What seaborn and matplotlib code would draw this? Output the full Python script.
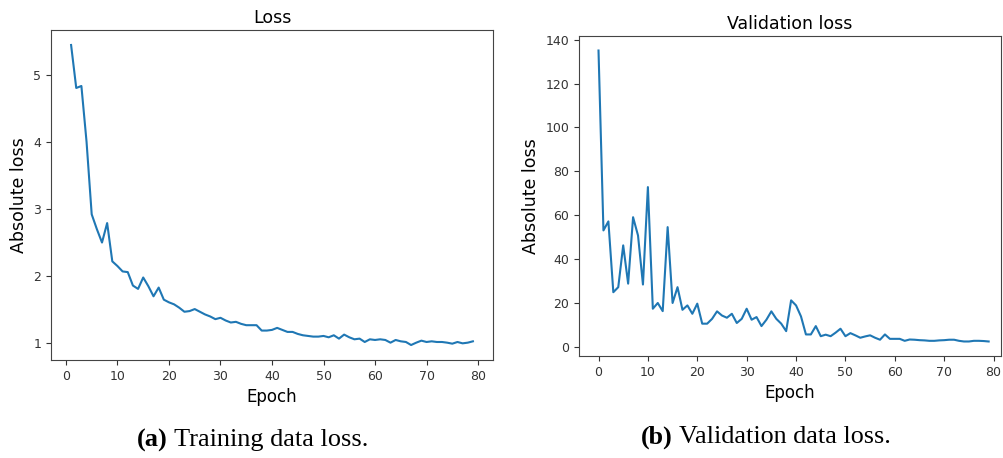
import numpy as np
import pandas as pd
import matplotlib
matplotlib.use("Agg")
import matplotlib.pyplot as plt
import seaborn as sns

train_epochs = list(range(1, 80))
train_loss = [5.44, 4.80, 4.83, 4.00, 2.92, 2.70, 2.50, 2.79, 2.22, 2.15,
              2.07, 2.06, 1.86, 1.81, 1.98, 1.85, 1.70, 1.83, 1.65, 1.61,
              1.58, 1.53, 1.47, 1.48, 1.51, 1.47, 1.43, 1.40, 1.36, 1.38,
              1.34, 1.31, 1.32, 1.29, 1.27, 1.27, 1.27, 1.19, 1.19, 1.20,
              1.23, 1.20, 1.17, 1.17, 1.14, 1.12, 1.11, 1.10, 1.10, 1.11,
              1.09, 1.12, 1.07, 1.13, 1.09, 1.06, 1.07, 1.02, 1.06, 1.05,
              1.06, 1.05, 1.01, 1.05, 1.03, 1.02, 0.975, 1.01, 1.04, 1.02,
              1.03, 1.02, 1.02, 1.01, 0.995, 1.02, 1.00, 1.01, 1.03]

val_epochs = list(range(0, 80))
val_loss = [135.0, 53.2, 57.3, 25.1, 27.4, 46.4, 29.0, 59.2, 50.9, 28.6,
            72.9, 17.6, 20.2, 16.5, 54.7, 20.2, 27.4, 17.1, 19.1, 15.3,
            19.9, 10.8, 10.8, 13.0, 16.4, 14.5, 13.5, 15.3, 11.1, 13.0,
            17.6, 12.6, 13.8, 9.7, 12.6, 16.4, 13.0, 10.8, 7.4, 21.4,
            19.1, 14.1, 5.9, 5.9, 9.7, 5.1, 5.8, 5.1, 6.7, 8.5,
            5.1, 6.5, 5.5, 4.4, 5.0, 5.5, 4.4, 3.5, 5.9, 3.9,
            3.9, 3.9, 3.0, 3.6, 3.5, 3.3, 3.2, 3.0, 3.0, 3.2,
            3.3, 3.5, 3.5, 3.0, 2.7, 2.7, 3.0, 3.0, 2.9, 2.7]

titles = ["Loss", "Validation loss"]
xlabel = "Epoch"
ylabel = "Absolute loss"
caption_tags = ["(a)", "(b)"]
caption_texts = [" Training data loss.", " Validation data loss."]

train_df = pd.DataFrame({"epoch": train_epochs, "loss": train_loss})
val_df = pd.DataFrame({"epoch": val_epochs, "loss": val_loss})

W, H = 1004, 458
fig = plt.figure(figsize=(W / 100, H / 100), dpi=100)

def px_axes(l, t, r, b):
    return fig.add_axes([l / W, 1 - b / H, (r - l) / W, (b - t) / H])

ax1 = px_axes(51, 30, 493, 360)
ax2 = px_axes(579, 36, 1001, 356)

color = "#1f77b4"
sns.lineplot(data=train_df, x="epoch", y="loss", ax=ax1, color=color, linewidth=1.5)
sns.lineplot(data=val_df, x="epoch", y="loss", ax=ax2, color=color, linewidth=1.5)

ax1.set_xlim(-2.9, 82.9)
ax1.set_ylim(0.752, 5.663)
ax1.set_xticks([0, 10, 20, 30, 40, 50, 60, 70, 80])
ax1.set_yticks([1, 2, 3, 4, 5])

ax2.set_xlim(-3.95, 81.5)
ax2.set_ylim(-3.9, 141.6)
ax2.set_xticks([0, 10, 20, 30, 40, 50, 60, 70, 80])
ax2.set_yticks([0, 20, 40, 60, 80, 100, 120, 140])

for ax, title in zip([ax1, ax2], titles):
    ax.set_title(title, fontsize=12.5, pad=5)
    ax.set_xlabel(xlabel, fontsize=12)
    ax.set_ylabel(ylabel, fontsize=12.5)
    ax.tick_params(labelsize=9, colors="#333333")
    for s in ax.spines.values():
        s.set_color("#444444")

renderer = fig.canvas.get_renderer()
caption_left = [137, 641]
caption_right = [368, 890]
caption_y = [440, 437]
cap_font = "Liberation Serif"
for lx, rx, cy, tag, txt in zip(caption_left, caption_right, caption_y,
                                caption_tags, caption_texts):
    size = 16
    t1 = fig.text(0, 0, tag, fontsize=size, fontweight="bold", family=cap_font,
                  ha="left", va="center")
    t2 = fig.text(0, 0, txt, fontsize=size, family=cap_font, ha="left", va="center")
    w1 = t1.get_window_extent(renderer).width
    w2 = t2.get_window_extent(renderer).width
    scale = (rx - lx) / (w1 + w2)
    size = size * scale
    t1.set_fontsize(size)
    t2.set_fontsize(size)
    w1 = t1.get_window_extent(renderer).width
    t1.set_position((lx / W, 1 - cy / H))
    t2.set_position(((lx + w1) / W, 1 - cy / H))

fig.savefig("out.png", dpi=100)
